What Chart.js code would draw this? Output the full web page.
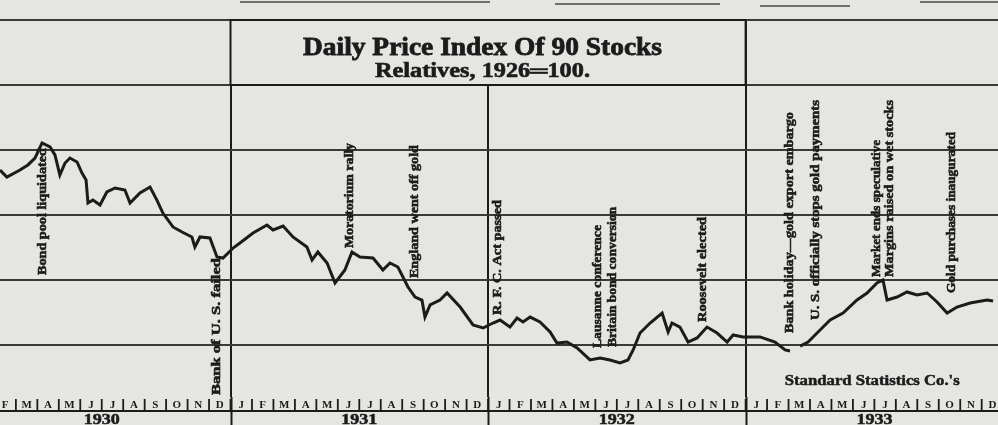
<!DOCTYPE html>
<html>
<head>
<meta charset="utf-8">
<title>Daily Price Index Of 90 Stocks</title>
<script src="https://cdn.jsdelivr.net/npm/chart.js@4.4.1/dist/chart.umd.min.js"></script>
<style>
    html, body { margin: 0; padding: 0; background: #e5e5e2; }
    #wrap { width: 998px; height: 425px; position: relative; }
</style>
</head>
<body>
<div id="wrap"><canvas id="stocks"></canvas></div>
<script>
// months counted from 1 Jan 1930 (0) ; index values, 1926 = 100
const monthPos = [
    1.26, 1.58, 2.19, 2.56, 2.89, 3.22, 3.59, 3.82, 4.05, 4.29, 4.52, 4.85, 5.08, 5.27, 5.36, 5.59,
    5.92, 6.24, 6.62, 7.08, 7.32, 7.78, 8.25, 8.57, 8.85, 9.32, 9.74, 10.2, 10.34, 10.58, 11.04, 11.37,
    11.65, 12.12, 12.44, 13.05, 13.7, 13.98, 14.45, 14.91, 15.56, 15.8, 16.07, 16.5, 16.87, 17.33, 17.66, 18.03,
    18.64, 19.1, 19.43, 19.8, 20.27, 20.6, 20.92, 21.06, 21.3, 21.76, 22.09, 22.7, 23.3, 23.77,
    24.23, 24.56, 25.02, 25.35, 25.63, 25.96, 26.42, 26.89, 27.21, 27.68, 28.15, 28.75, 29.22, 29.68,
    30.15, 30.52, 30.76, 31.08, 31.55, 32.11, 32.39, 32.57, 32.94, 33.32, 33.74, 34.2, 34.67, 35.14,
    35.42, 35.88, 36.67, 37.37, 37.84, 38.07, 38.3, 38.54, 38.91, 39.33, 39.94, 40.54, 41.19, 41.66,
    42.12, 42.4, 42.59, 43.06, 43.52, 43.99, 44.46, 44.92, 45.39, 45.85, 46.46, 47.25, 47.53
];
const indexValues = [
    184.6, 179.2, 184.6, 188.5, 193.8, 205.4, 202.3, 196.2, 180.8, 190, 193.8, 190.8, 182.3, 176.9, 159.2, 161.5,
    157.7, 167.7, 170.8, 169.2, 159.2, 166.9, 171.5, 161.5, 151.5, 140.8, 136.9, 133.1, 125.4, 133.1, 132.3, 117.7,
    116.9, 124.6, 128.5, 136.2, 142.3, 138.5, 141.5, 133.1, 125.4, 115.4, 121.5, 113.1, 97.7, 107.7, 121.5, 117.7,
    116.9, 107.7, 113.1, 110, 94.6, 86.9, 84.6, 71.5, 80.8, 84.6, 90, 79.2, 65.4, 63.1,
    66.9, 69.2, 63.8, 70.8, 67.7, 71.5, 67.7, 60, 51.5, 52.3, 47.7, 38.5, 40, 38.5,
    36.2, 38.5, 46.2, 59.2, 66.9, 74.6, 60, 66.9, 63.8, 52.3, 55.4, 63.8, 59.2, 52.3,
    57.7, 56.2, 56.2, 52.3, 46.2, 45.4, null, 49.2, 52.3, 59.2, 69.2, 74.6, 84.6, 90,
    97.7, 100, 84.6, 86.9, 90.8, 88.5, 90, 83.1, 74.6, 79.2, 82.3, 84.6, 83.8
];

const gridValues = [50, 100, 150, 200, 250, 300];
const yearStarts = [12, 24, 36];
const monthLetters = ["J", "F", "M", "A", "M", "J", "J", "A", "S", "O", "N", "D"];
const yearLabels = ["1930", "1931", "1932", "1933"];

const titleText = "Daily Price Index Of 90 Stocks";
const subtitleText = "Relatives, 1926\u2550100.";
const sourceText = "Standard Statistics Co.'s";

const eventLabels = [
    "Bond pool liquidated",
    "Bank of U. S. failed",
    "Moratorium rally",
    "England went off gold",
    "R. F. C. Act passed",
    "Lausanne conference",
    "Britain bond conversion",
    "Roosevelt elected",
    "Bank holiday\u2014gold export embargo",
    "U. S. officially stops gold payments",
    "Market ends speculative",
    "Margins raised on wet stocks",
    "Gold purchases inaugurated"
];
const eventMonths = [3.26, 11.37, 17.57, 20.6, 24.46, 29.12, 29.82, 34.02, 38.07, 39.24, 42.12, 42.73, 45.62];
// vertical extent of each label, in index units [bottom, top]
const eventSpans = [
    [103.8, 201.5], [11.5, 116.9], [124.6, 205.4], [101.5, 203.8], [73.1, 161.5],
    [47.7, 142.3], [48.5, 156.2], [67.7, 148.5], [59.2, 229.2], [69.2, 238.5],
    [102.3, 207.7], [102.3, 238.5], [90, 213.8]
];

const points = monthPos.map((m, i) => ({ x: m, y: indexValues[i] }));

const PAPER = "#e5e5e2";
const INK = "#1b1b1b";

// draws text stretched or squeezed sideways so it covers exactly `width`
function fitText(ctx, text, x, y, width, align, heavy) {
    const w = ctx.measureText(text).width;
    ctx.save();
    ctx.translate(x, y);
    ctx.scale(width / w, 1);
    ctx.textAlign = align;
    if (heavy) {
        ctx.lineWidth = heavy;
        ctx.strokeStyle = ctx.fillStyle;
        ctx.strokeText(text, 0, 0);
    }
    ctx.fillText(text, 0, 0);
    ctx.restore();
}

const newspaperPlugin = {
    id: "newspaper",
    beforeDraw(chart) {
        const ctx = chart.ctx;
        ctx.save();
        ctx.fillStyle = PAPER;
        ctx.fillRect(0, 0, chart.width, chart.height);
        // rules from the column above, cut off by the page edge
        ctx.strokeStyle = "#6e6e6c";
        ctx.lineWidth = 2;
        [[240, 490, 2], [555, 720, 4], [760, 850, 6], [920, 998, 2]].forEach(s => {
            ctx.beginPath();
            ctx.moveTo(s[0], s[2]);
            ctx.lineTo(s[1], s[2]);
            ctx.stroke();
        });
        ctx.restore();
    },
    afterDraw(chart) {
        const ctx = chart.ctx;
        const xs = chart.scales.x;
        const ys = chart.scales.y;
        const area = chart.chartArea;
        const px = m => xs.getPixelForValue(m);
        ctx.save();

        // title box
        const bx0 = px(12), bx1 = px(36);
        const by0 = ys.getPixelForValue(300), by1 = ys.getPixelForValue(250);
        ctx.fillStyle = PAPER;
        ctx.fillRect(bx0, by0, bx1 - bx0, by1 - by0);
        ctx.strokeStyle = INK;
        ctx.lineWidth = 2;
        ctx.strokeRect(bx0, by0, bx1 - bx0, by1 - by0);

        ctx.fillStyle = INK;
        ctx.textBaseline = "alphabetic";
        ctx.font = 'bold 26px "Liberation Serif"';
        fitText(ctx, titleText, 303, by0 + 35, 359, "left", 0.8);
        ctx.font = 'bold 20px "Liberation Serif"';
        fitText(ctx, subtitleText, 375, by0 + 57, 215, "left", 0.6);

        // year lines run down through the month strip
        ctx.strokeStyle = INK;
        ctx.lineWidth = 2;
        yearStarts.forEach(m => {
            ctx.beginPath();
            ctx.moveTo(Math.round(px(m)) + 0.5, area.bottom);
            ctx.lineTo(Math.round(px(m)) + 0.5, chart.height);
            ctx.stroke();
        });

        // month strip
        const stripY = area.bottom + 7;
        ctx.font = 'bold 11px "Liberation Serif"';
        ctx.textAlign = "center";
        ctx.textBaseline = "middle";
        ctx.lineWidth = 1.8;
        for (let y = 0; y < yearLabels.length; y++) {
            for (let k = 0; k < 12; k++) {
                const m = y * 12 + k;
                ctx.fillText(monthLetters[k], px(m + 0.5), stripY + 1);
                ctx.beginPath();
                ctx.moveTo(px(m + 1), stripY - 5);
                ctx.lineTo(px(m + 1), stripY + 6);
                ctx.stroke();
            }
            ctx.save();
            ctx.font = 'bold 14px "Liberation Serif"';
            ctx.textBaseline = "top";
            fitText(ctx, yearLabels[y], px(y * 12 + 6), area.bottom + 16, 36, "center", 0.5);
            ctx.restore();
        }
        ctx.lineWidth = 2;
        ctx.beginPath();
        ctx.moveTo(0, area.bottom + 14);
        ctx.lineTo(chart.width, area.bottom + 14);
        ctx.stroke();

        // event labels, read bottom to top
        ctx.font = 'bold 13px "Liberation Serif"';
        ctx.textBaseline = "middle";
        eventLabels.forEach((label, i) => {
            const x = px(eventMonths[i]);
            const yb = ys.getPixelForValue(eventSpans[i][0]);
            const yt = ys.getPixelForValue(eventSpans[i][1]);
            ctx.save();
            ctx.translate(x, yb);
            ctx.rotate(-Math.PI / 2);
            fitText(ctx, label, 0, 0, yb - yt, "left", 0.6);
            ctx.restore();
        });

        // source credit
        ctx.font = 'bold 15px "Liberation Serif"';
        ctx.textBaseline = "middle";
        fitText(ctx, sourceText, px(41.9), ys.getPixelForValue(22.5), 175, "center", 0.5);

        ctx.restore();
    }
};

new Chart(document.getElementById("stocks"), {
    type: "line",
    data: {
        datasets: [{
            data: points,
            borderColor: INK,
            borderWidth: 3,
            pointRadius: 0,
            tension: 0,
            spanGaps: false,
            fill: false
        }]
    },
    options: {
        responsive: true,
        maintainAspectRatio: false,
        animation: false,
        events: [],
        layout: { padding: { top: 20, bottom: 28, left: 0, right: 0 } },
        plugins: {
            legend: { display: false },
            tooltip: { enabled: false }
        },
        scales: {
            x: {
                type: "linear",
                min: 1.26,
                max: 47.76,
                afterBuildTicks: axis => { axis.ticks = yearStarts.map(v => ({ value: v })); },
                ticks: { display: false },
                grid: { color: INK, lineWidth: 2, drawTicks: false },
                border: { display: false }
            },
            y: {
                type: "linear",
                min: 10,
                max: 300,
                afterBuildTicks: axis => { axis.ticks = gridValues.map(v => ({ value: v })); },
                ticks: { display: false },
                grid: { color: "#3a3a3a", lineWidth: 2, drawTicks: false },
                border: { display: false }
            }
        }
    },
    plugins: [newspaperPlugin]
});
</script>
</body>
</html>
